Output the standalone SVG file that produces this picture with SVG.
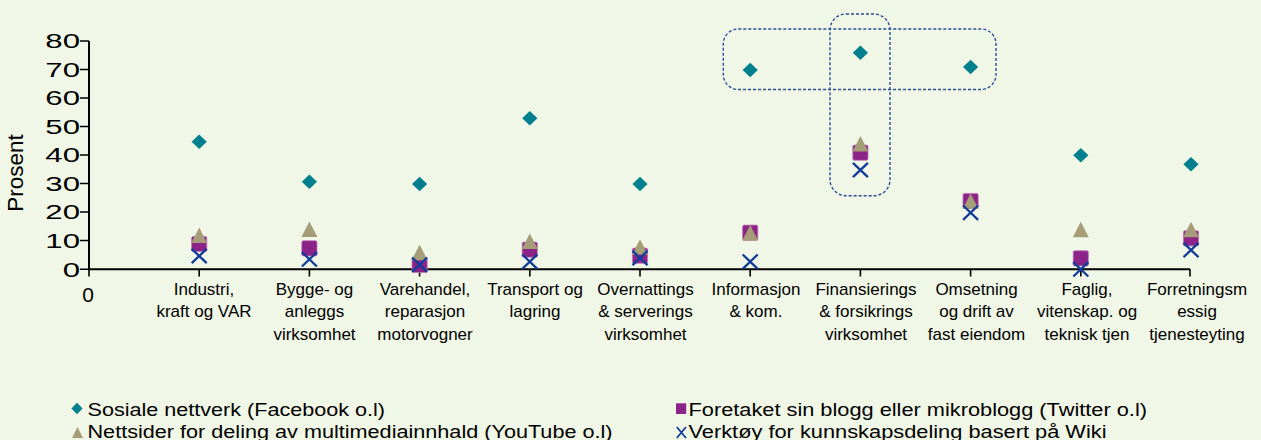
<svg xmlns="http://www.w3.org/2000/svg" width="1261" height="440" viewBox="0 0 1261 440">
<defs>
<style>
.bg{fill:#F1F7E6}
.ax{stroke:#000;stroke-width:2;fill:none}
.tk{stroke:#000;stroke-width:1.6}
.ytl{font-family:"Liberation Sans",Arial,sans-serif;font-size:19.5px;fill:#000;text-anchor:end}
.cat{font-family:"Liberation Sans",Arial,sans-serif;font-size:17px;fill:#000;text-anchor:middle}
.leg{font-family:"Liberation Sans",Arial,sans-serif;font-size:18.7px;fill:#000}
.dia{fill:#00808E}
.sq{fill:#8C2389;stroke:#C07AB8;stroke-width:0.8}
.tri{fill:#A59D77}
.xm{stroke:#123C99;stroke-width:2.3;fill:none}
.box{fill:none;stroke:#2B4D9C;stroke-width:1.4;stroke-dasharray:3 2}
</style>
<path id="d" d="M0,-7.3 L7.6,0 L0,7.3 L-7.6,0 Z"/>
<path id="t" d="M0,-7.8 L8,7.8 L-8,7.8 Z"/>
<rect id="s" x="-7.6" y="-7.6" width="15.2" height="15.2" rx="1.5"/>
<path id="x" d="M-7.5,-7.2 L7.5,7.2 M-7.5,7.2 L7.5,-7.2"/>
</defs>
<rect class="bg" x="0" y="0" width="1261" height="440"/>

<g id="axes">
<path class="ax" d="M89,41 V269.3 H1190"/>
<g class="tk">
<path d="M80,41H89M80,69.5H89M80,98H89M80,126.5H89M80,155H89M80,183.5H89M80,212H89M80,240.5H89M80,269.3H89"/>
<path d="M89,269V276.5M199.2,269V276.5M309.4,269V276.5M419.6,269V276.5M529.8,269V276.5M640,269V276.5M750.2,269V276.5M860.4,269V276.5M970.6,269V276.5M1080.8,269V276.5M1190,269V276.5"/>
</g>
<g id="ytick-labels">
<text class="ytl" transform="matrix(1.6 0 0 1 80 48.2)">80</text>
<text class="ytl" transform="matrix(1.6 0 0 1 80 76.7)">70</text>
<text class="ytl" transform="matrix(1.6 0 0 1 80 105.2)">60</text>
<text class="ytl" transform="matrix(1.6 0 0 1 80 133.7)">50</text>
<text class="ytl" transform="matrix(1.6 0 0 1 80 162.2)">40</text>
<text class="ytl" transform="matrix(1.6 0 0 1 80 190.7)">30</text>
<text class="ytl" transform="matrix(1.6 0 0 1 80 219.2)">20</text>
<text class="ytl" transform="matrix(1.6 0 0 1 80 247.7)">10</text>
<text class="ytl" transform="matrix(1.6 0 0 1 80 276.5)">0</text>
</g>
<text x="88" y="302" font-family="Liberation Sans, Arial, sans-serif" font-size="21" text-anchor="middle">0</text>
<text transform="translate(23,173) rotate(-90)" font-family="Liberation Sans, Arial, sans-serif" font-size="22.5" text-anchor="middle">Prosent</text>
</g>

<g id="category-labels">
<text class="cat" x="204" y="294.5">Industri,</text>
<text class="cat" x="204" y="317">kraft og VAR</text>
<text class="cat" x="314.5" y="294.5">Bygge- og</text>
<text class="cat" x="314.5" y="317">anleggs</text>
<text class="cat" x="314.5" y="339.5">virksomhet</text>
<text class="cat" x="425" y="294.5">Varehandel,</text>
<text class="cat" x="425" y="317">reparasjon</text>
<text class="cat" x="425" y="339.5">motorvogner</text>
<text class="cat" x="535" y="294.5">Transport og</text>
<text class="cat" x="535" y="317">lagring</text>
<text class="cat" x="645.5" y="294.5">Overnattings</text>
<text class="cat" x="645.5" y="317">&amp; serverings</text>
<text class="cat" x="645.5" y="339.5">virksomhet</text>
<text class="cat" x="756" y="294.5">Informasjon</text>
<text class="cat" x="756" y="317">&amp; kom.</text>
<text class="cat" x="866" y="294.5">Finansierings</text>
<text class="cat" x="866" y="317">&amp; forsikrings</text>
<text class="cat" x="866" y="339.5">virksomhet</text>
<text class="cat" x="976.5" y="294.5">Omsetning</text>
<text class="cat" x="976.5" y="317">og drift av</text>
<text class="cat" x="976.5" y="339.5">fast eiendom</text>
<text class="cat" x="1087" y="294.5">Faglig,</text>
<text class="cat" x="1087" y="317">vitenskap. og</text>
<text class="cat" x="1087" y="339.5">teknisk tjen</text>
<text class="cat" x="1197" y="294.5">Forretningsm</text>
<text class="cat" x="1197" y="317">essig</text>
<text class="cat" x="1197" y="339.5">tjenesteyting</text>
</g>

<g id="series-sosiale" class="dia">
<use href="#d" x="199.2" y="141.7"/>
<use href="#d" x="309.4" y="181.7"/>
<use href="#d" x="419.6" y="184"/>
<use href="#d" x="529.8" y="118.3"/>
<use href="#d" x="640" y="184"/>
<use href="#d" x="750.2" y="70"/>
<use href="#d" x="860.4" y="52.7"/>
<use href="#d" x="970.6" y="67"/>
<use href="#d" x="1080.8" y="155.3"/>
<use href="#d" x="1191" y="164.3"/>
</g>
<g id="series-blogg" class="sq">
<use href="#s" x="199.2" y="244"/>
<use href="#s" x="309.4" y="248.3"/>
<use href="#s" x="419.6" y="265"/>
<use href="#s" x="529.8" y="249.7"/>
<use href="#s" x="640" y="255.7"/>
<use href="#s" x="750.2" y="232.7"/>
<use href="#s" x="860.4" y="152.7"/>
<use href="#s" x="970.6" y="201"/>
<use href="#s" x="1080.8" y="258.3"/>
<use href="#s" x="1191" y="238.3"/>
</g>
<g id="series-multimedia" class="tri">
<use href="#t" x="199.2" y="235.2"/>
<use href="#t" x="309.4" y="229.2"/>
<use href="#t" x="419.6" y="252.5"/>
<use href="#t" x="529.8" y="241.3"/>
<use href="#t" x="640" y="247"/>
<use href="#t" x="750.2" y="232.8"/>
<use href="#t" x="860.4" y="143.8"/>
<use href="#t" x="970.6" y="201.2"/>
<use href="#t" x="1080.8" y="229.5"/>
<use href="#t" x="1191" y="229.5"/>
</g>
<g id="series-wiki" class="xm">
<use href="#x" x="199.2" y="256"/>
<use href="#x" x="309.4" y="259.3"/>
<use href="#x" x="419.6" y="264.7"/>
<use href="#x" x="529.8" y="261.7"/>
<use href="#x" x="640" y="258"/>
<use href="#x" x="750.2" y="261.7"/>
<use href="#x" x="860.4" y="170"/>
<use href="#x" x="970.6" y="212.7"/>
<use href="#x" x="1080.8" y="269.3"/>
<use href="#x" x="1191" y="250"/>
</g>

<g id="highlight-boxes">
<rect class="box" x="723.3" y="29" width="272.7" height="60.5" rx="15"/>
<rect class="box" x="830" y="14" width="60" height="181.7" rx="16"/>
</g>

<g id="legend">
<path class="dia" d="M77,402.8 L82.6,408.5 L77,414.2 L71.4,408.5 Z"/>
<text class="leg" x="87.5" y="416" textLength="297.5" lengthAdjust="spacingAndGlyphs">Sosiale nettverk (Facebook o.l)</text>
<path class="tri" d="M77.5,427 L83,438 L72,438 Z"/>
<text class="leg" x="87.5" y="438" textLength="525" lengthAdjust="spacingAndGlyphs">Nettsider for deling av multimediainnhald (YouTube o.l)</text>
<rect x="676" y="403.3" width="10.2" height="10.7" fill="#8C2389"/>
<text class="leg" x="688.5" y="416" textLength="458.5" lengthAdjust="spacingAndGlyphs">Foretaket sin blogg eller mikroblogg (Twitter o.l)</text>
<path d="M676.8,427 L686,438 M676.8,438 L686,427" stroke="#123C99" stroke-width="1.8"/>
<text class="leg" x="688.5" y="438" textLength="418" lengthAdjust="spacingAndGlyphs">Verktøy for kunnskapsdeling basert på Wiki</text>
</g>
</svg>
